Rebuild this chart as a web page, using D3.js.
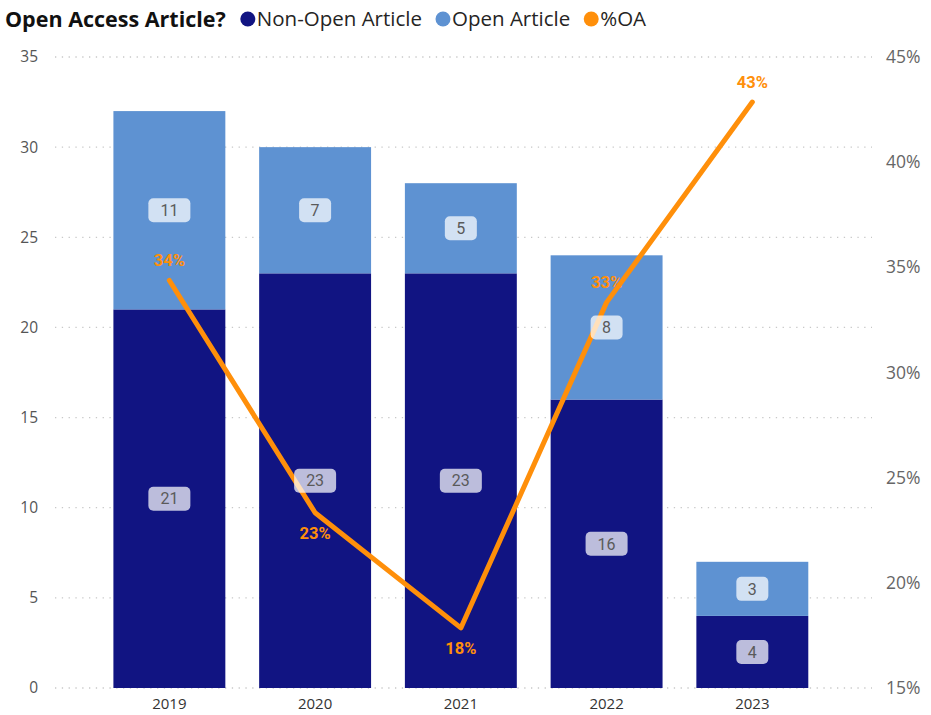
<!DOCTYPE html>
<html>
<head>
<meta charset="utf-8">
<script src="https://cdn.jsdelivr.net/npm/d3@7"></script>
<style>
  html, body { margin: 0; padding: 0; background: #fff; }
  svg { display: block; }
</style>
</head>
<body>
<svg id="chart" width="931" height="715"></svg>
<script>
// Articles per year, split by open-access status
const years = ["2019", "2020", "2021", "2022", "2023"];
const nonOpen = [21, 23, 23, 16, 4];
const openArt = [11, 7, 5, 8, 3];
// Share of open-access articles per year
const pctOA = [11 / 32, 7 / 30, 5 / 28, 8 / 24, 3 / 7];
const leftTicks = [0, 5, 10, 15, 20, 25, 30, 35];
const rightTicks = [0.15, 0.20, 0.25, 0.30, 0.35, 0.40, 0.45];

const colors = { nonOpen: "#111482", open: "#5E92D2", oa: "#FF8F0A" };

const svg = d3.select("#chart");
const plot = { top: 57, bottom: 688, gridLeft: 55, gridRight: 872 };
const uiFont = "'Segoe UI', 'Open Sans', sans-serif";
const numFont = "Roboto, 'DejaVu Sans', sans-serif";

const x = d3.scaleBand()
  .domain(years)
  .range([96.5, 825.2])
  .paddingInner(0.232)
  .paddingOuter(0.116);

const y = d3.scaleLinear().domain([0, 35]).range([plot.bottom, plot.top]);
const y2 = d3.scaleLinear().domain([0.15, 0.45]).range([plot.bottom, plot.top]);

// Dotted horizontal gridlines (left axis)
svg.append("g")
  .selectAll("line")
  .data(leftTicks)
  .join("line")
  .attr("x1", plot.gridLeft)
  .attr("x2", plot.gridRight)
  .attr("y1", d => y(d))
  .attr("y2", d => y(d))
  .attr("stroke", "#c8c8c8")
  .attr("stroke-width", 1.3)
  .attr("stroke-dasharray", "1.3,5.5");

// Left axis
const leftAxis = svg.append("g")
  .attr("transform", "translate(38,0)")
  .call(d3.axisLeft(y).tickValues(leftTicks).tickSize(0).tickPadding(0).tickFormat(d3.format("d")));
leftAxis.select(".domain").remove();
leftAxis.selectAll("text")
  .attr("fill", "#555")
  .style("font-family", uiFont)
  .style("font-size", "15.5px");

// Right axis
const rightAxis = svg.append("g")
  .attr("transform", "translate(886,0)")
  .call(d3.axisRight(y2).tickValues(rightTicks).tickSize(0).tickPadding(0).tickFormat(d3.format(".0%")));
rightAxis.select(".domain").remove();
rightAxis.selectAll("text")
  .attr("fill", "#666")
  .style("font-family", uiFont)
  .style("font-size", "17.5px");

// Bottom axis
const bottomAxis = svg.append("g")
  .attr("transform", `translate(0,${plot.bottom})`)
  .call(d3.axisBottom(x).tickSize(0).tickPadding(10));
bottomAxis.select(".domain").remove();
bottomAxis.selectAll("text")
  .attr("fill", "#333")
  .style("font-family", uiFont)
  .style("font-size", "15px");

// Stacked bars
const rows = years.map((yr, i) => ({ year: yr, nonOpen: nonOpen[i], open: openArt[i] }));
const stack = d3.stack().keys(["nonOpen", "open"])(rows);

const layers = svg.append("g").selectAll("g")
  .data(stack)
  .join("g")
  .attr("fill", d => colors[d.key]);

layers.selectAll("rect")
  .data(d => d)
  .join("rect")
  .attr("x", d => x(d.data.year))
  .attr("width", x.bandwidth())
  .attr("y", d => y(d[1]))
  .attr("height", d => y(d[0]) - y(d[1]));

// %OA line
const line = d3.line()
  .x((d, i) => x(years[i]) + x.bandwidth() / 2)
  .y(d => y2(d));

svg.append("path")
  .datum(pctOA)
  .attr("d", line)
  .attr("fill", "none")
  .attr("stroke", colors.oa)
  .attr("stroke-width", 5)
  .attr("stroke-linejoin", "round")
  .attr("stroke-linecap", "round");

// Segment value labels with rounded backgrounds
const segLabels = svg.append("g");
stack.forEach(layer => {
  layer.forEach(d => {
    const v = d[1] - d[0];
    const cx = x(d.data.year) + x.bandwidth() / 2;
    const cy = (y(d[0]) + y(d[1])) / 2;
    const txt = String(v);
    const w = txt.length > 1 ? 42 : 32;
    const g = segLabels.append("g").attr("transform", `translate(${cx},${cy})`);
    g.append("rect")
      .attr("x", -w / 2).attr("y", -12)
      .attr("width", w).attr("height", 24)
      .attr("rx", 5).attr("ry", 5)
      .attr("fill", "#fff")
      .attr("fill-opacity", 0.72);
    g.append("text")
      .attr("text-anchor", "middle")
      .attr("dy", "0.36em")
      .attr("fill", "#5a5a5a")
      .style("font-family", numFont)
      .style("font-size", "16px")
      .text(txt);
  });
});

// %OA labels: below the point when the line arrives descending, above otherwise
const fmtPct = d3.format(".0%");
svg.append("g").selectAll("text")
  .data(pctOA)
  .join("text")
  .attr("x", (d, i) => x(years[i]) + x.bandwidth() / 2)
  .attr("y", (d, i) => {
    const below = i > 0 && pctOA[i - 1] > d;
    return y2(d) + (below ? 20 : -20);
  })
  .attr("dy", "0.36em")
  .attr("text-anchor", "middle")
  .attr("fill", colors.oa)
  .style("font-family", numFont)
  .style("font-weight", "700")
  .style("font-size", "16.5px")
  .text(d => fmtPct(d));

// Legend
const legend = svg.append("g").attr("transform", "translate(5,19)");
const title = legend.append("text")
  .attr("x", 0)
  .attr("dy", "0.35em")
  .attr("fill", "#111")
  .style("font-family", uiFont)
  .style("font-weight", "700")
  .style("font-size", "21.5px")
  .text("Open Access Article?");

const legendItems = [
  { label: "Non-Open Article", color: colors.nonOpen },
  { label: "Open Article", color: colors.open },
  { label: "%OA", color: colors.oa }
];
let lx = title.node().getComputedTextLength() + 15;
legendItems.forEach(item => {
  legend.append("circle")
    .attr("cx", lx + 7).attr("cy", 0).attr("r", 7.5)
    .attr("fill", item.color);
  const t = legend.append("text")
    .attr("x", lx + 16)
    .attr("dy", "0.35em")
    .attr("fill", "#252423")
    .style("font-family", uiFont)
    .style("font-size", "20.5px")
    .text(item.label);
  lx += 16 + t.node().getComputedTextLength() + 14;
});
</script>
</body>
</html>
